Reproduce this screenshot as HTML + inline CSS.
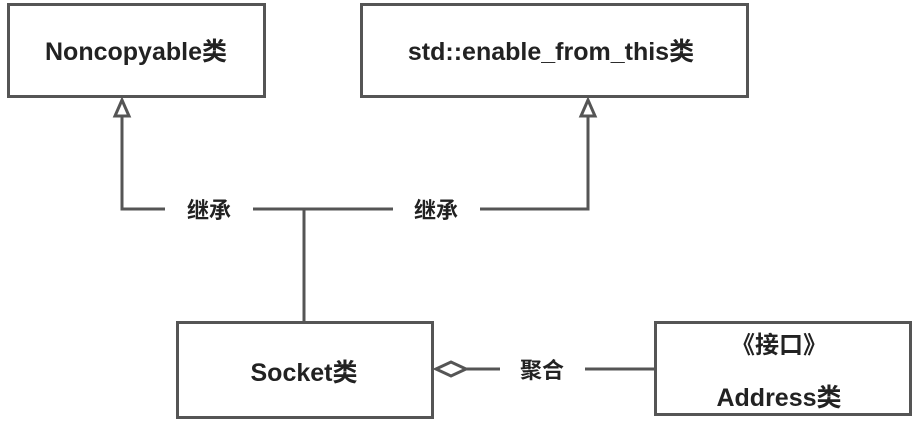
<!DOCTYPE html>
<html><head><meta charset="utf-8"><style>
body{margin:0;background:#fff;}
svg text{font-family:"Liberation Sans","Noto Sans CJK SC",sans-serif;font-weight:bold;fill:#222;}
</style></head><body>
<svg width="918" height="427" viewBox="0 0 918 427" xmlns="http://www.w3.org/2000/svg">
<g fill="none" stroke="#555" stroke-width="3">
<rect x="8.5" y="4.5" width="256" height="92"/>
<rect x="361.5" y="4.5" width="386" height="92"/>
<rect x="177.5" y="322.5" width="255" height="95"/>
<rect x="655.5" y="322.5" width="255" height="92"/>
<polyline points="122,113 122,209 165,209"/>
<line x1="253" y1="209" x2="393" y2="209"/>
<line x1="304" y1="209" x2="304" y2="322"/>
<polyline points="480,209 588,209 588,113"/>
<line x1="466" y1="369" x2="500" y2="369"/>
<line x1="585" y1="369" x2="655" y2="369"/>
<polygon points="122,100 115,116 129,116" fill="#fff"/>
<polygon points="588,100 581,116 595,116" fill="#fff"/>
<polygon points="436,369 451,362 466,369 451,376" fill="#fff"/>
</g>
<text x="136" y="60" font-size="25" text-anchor="middle">Noncopyable类</text>
<text x="551" y="60" font-size="25" text-anchor="middle">std::enable_from_this类</text>
<text x="304" y="381" font-size="25" text-anchor="middle">Socket类</text>
<text x="779" y="353" font-size="24" text-anchor="middle">《接口》</text>
<text x="779" y="406" font-size="25" text-anchor="middle">Address类</text>
<text x="209" y="218" font-size="22" text-anchor="middle">继承</text>
<text x="436" y="218" font-size="22" text-anchor="middle">继承</text>
<text x="542" y="378" font-size="22" text-anchor="middle">聚合</text>
</svg>
</body></html>
